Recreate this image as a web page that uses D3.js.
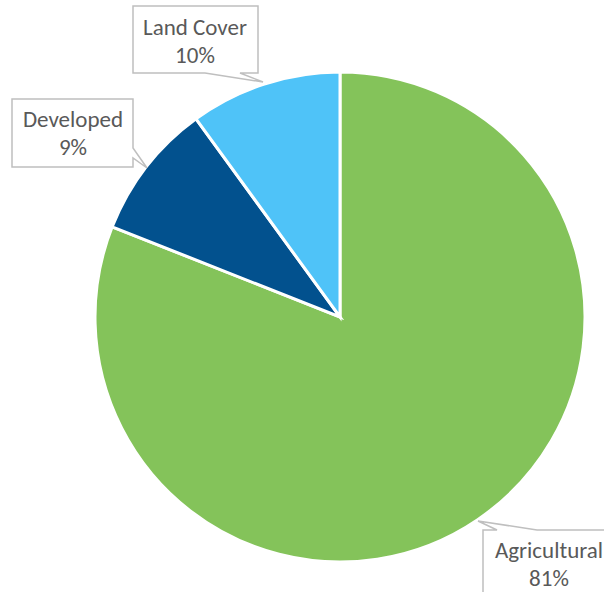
<!DOCTYPE html>
<html>
<head>
<meta charset="utf-8">
<script src="https://cdn.jsdelivr.net/npm/d3@7"></script>
<style>
  html, body { margin: 0; padding: 0; background: #fff; }
  svg { display: block; }
</style>
</head>
<body>
<svg id="chart" width="604" height="592"></svg>
<script>
// Land use shares (percent)
const categories = ["Agricultural", "Developed", "Land Cover"];
const values = [81, 9, 10];
const colors = ["#84C35A", "#02518E", "#4FC3F8"];

const svg = d3.select("#chart");
const cx = 340, cy = 317, radius = 245;

const pie = d3.pie().sort(null).value(d => d.value);
const arcs = pie(categories.map((c, i) => ({ name: c, value: values[i], color: colors[i] })));
const arc = d3.arc().innerRadius(0).outerRadius(radius);

const g = svg.append("g").attr("transform", `translate(${cx},${cy})`);
g.selectAll("path")
  .data(arcs)
  .join("path")
  .attr("d", arc)
  .attr("fill", d => d.data.color)
  .attr("stroke", "#fff")
  .attr("stroke-width", 3)
  .attr("stroke-linejoin", "miter");

// Callout boxes: rectangle with a wedge pointing at its slice
const callouts = {
  "Land Cover":   { x: 133, y: 6,   w: 125, h: 67, tx: 195, ty: 35,
                    wedge: [[205, 73], [263, 82], [240, 73]], side: "bottom" },
  "Developed":    { x: 12,  y: 99,  w: 121, h: 68, tx: 73,  ty: 127,
                    wedge: [[133, 148], [147, 168], [133, 158]], side: "right" },
  "Agricultural": { x: 483, y: 530, w: 140, h: 80, tx: 549, ty: 558,
                    wedge: [[537, 530], [478, 521], [497, 530]], side: "top" }
};

function calloutPath(c) {
  const x0 = c.x, y0 = c.y, x1 = c.x + c.w, y1 = c.y + c.h;
  const [a, t, b] = c.wedge;
  const p = d3.path();
  if (c.side === "bottom") {
    p.moveTo(x0, y0); p.lineTo(x1, y0); p.lineTo(x1, y1);
    p.lineTo(b[0], b[1]); p.lineTo(t[0], t[1]); p.lineTo(a[0], a[1]);
    p.lineTo(x0, y1); p.closePath();
  } else if (c.side === "right") {
    p.moveTo(x0, y0); p.lineTo(x1, y0); p.lineTo(a[0], a[1]);
    p.lineTo(t[0], t[1]); p.lineTo(b[0], b[1]); p.lineTo(x1, y1);
    p.lineTo(x0, y1); p.closePath();
  } else {
    p.moveTo(x0, y0); p.lineTo(b[0], b[1]); p.lineTo(t[0], t[1]);
    p.lineTo(a[0], a[1]); p.lineTo(x1, y0); p.lineTo(x1, y1);
    p.lineTo(x0, y1); p.closePath();
  }
  return p.toString();
}

const labels = svg.append("g");
arcs.forEach(d => {
  const c = callouts[d.data.name];
  labels.append("path")
    .attr("d", calloutPath(c))
    .attr("fill", "#fff")
    .attr("stroke", "#BFBFBF")
    .attr("stroke-width", 1.5);
  const t = labels.append("text")
    .attr("text-anchor", "middle")
    .attr("font-family", "Carlito, Calibri, Lato, sans-serif")
    .attr("font-size", 23)
    .attr("fill", "#595959");
  t.append("tspan").attr("x", c.tx).attr("y", c.ty).text(d.data.name);
  t.append("tspan").attr("x", c.tx).attr("y", c.ty + 28)
    .text(Math.round((d.endAngle - d.startAngle) / (2 * Math.PI) * 100) + "%");
});
</script>
</body>
</html>
